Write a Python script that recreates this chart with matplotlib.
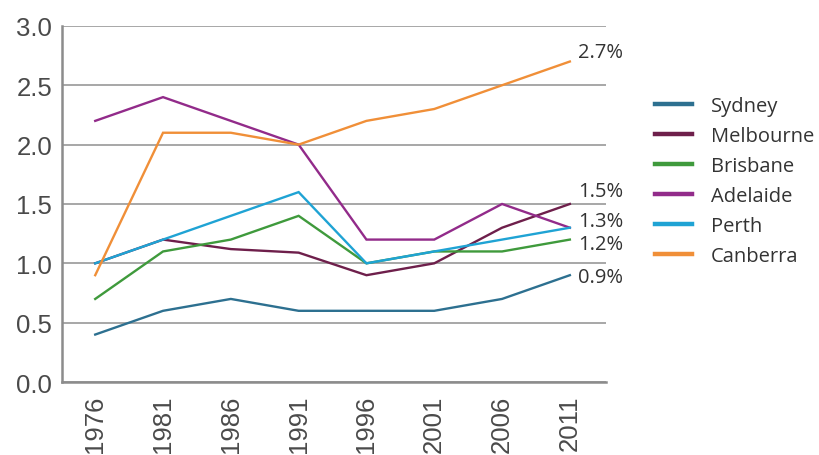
"""Population growth rate by capital city, 1976-2011."""

import matplotlib

matplotlib.use("Agg")
import matplotlib.pyplot as plt

years = ["1976", "1981", "1986", "1991", "1996", "2001", "2006", "2011"]
cities = ["Sydney", "Melbourne", "Brisbane", "Adelaide", "Perth", "Canberra"]

sydney = [0.4, 0.6, 0.7, 0.6, 0.6, 0.6, 0.7, 0.9]
melbourne = [1.0, 1.2, 1.12, 1.09, 0.9, 1.0, 1.3, 1.5]
brisbane = [0.7, 1.1, 1.2, 1.4, 1.0, 1.1, 1.1, 1.2]
adelaide = [2.2, 2.4, 2.2, 2.0, 1.2, 1.2, 1.5, 1.3]
perth = [1.0, 1.2, 1.4, 1.6, 1.0, 1.1, 1.2, 1.3]
canberra = [0.9, 2.1, 2.1, 2.0, 2.2, 2.3, 2.5, 2.7]

end_labels = {"Canberra": "2.7%", "Melbourne": "1.5%", "Perth": "1.3%",
              "Brisbane": "1.2%", "Sydney": "0.9%"}

series = [sydney, melbourne, brisbane, adelaide, perth, canberra]
colors = ["#2d7090", "#6e1f4b", "#3f9a3c", "#922b8a", "#1fa3d4", "#f08f38"]
# vertical nudge (points) so the end labels do not collide
label_offsets = {"Canberra": 7, "Melbourne": 9, "Perth": 5, "Brisbane": -3, "Sydney": -1}

fig = plt.figure(figsize=(8.2, 4.56), dpi=100)
ax = fig.add_axes([0.0756, 0.160, 0.664, 0.781])

x = list(range(len(years)))
for name, values, color in zip(cities, series, colors):
    ax.plot(x, values, color=color, linewidth=1.7, label=name,
            solid_joinstyle="miter")
    if name in end_labels:
        ax.annotate(end_labels[name], xy=(x[-1], values[-1]),
                    xytext=(6, label_offsets[name]), textcoords="offset points",
                    ha="left", va="center", fontsize=14.5, color="#333333",
                    family="Open Sans")

ax.set_xlim(-0.49, 7.54)
ax.set_ylim(0, 3.0)
ax.set_yticks([0.0, 0.5, 1.0, 1.5, 2.0, 2.5, 3.0])
ax.set_yticklabels([f"{v:.1f}" for v in ax.get_yticks()])
ax.set_xticks(x)
ax.set_xticklabels(years, rotation=90)
ax.tick_params(axis="both", length=0, labelsize=18.5, labelcolor="#4a4a4a")
ax.tick_params(axis="y", pad=7)
ax.tick_params(axis="x", pad=9)
for label in ax.get_xticklabels() + ax.get_yticklabels():
    label.set_family("Liberation Sans")

ax.grid(axis="y", color="#a0a0a0", linewidth=1.3)
ax.set_axisbelow(True)
for side in ("top", "right"):
    ax.spines[side].set_visible(False)
for side in ("left", "bottom"):
    ax.spines[side].set_color("#8c8c8c")
    ax.spines[side].set_linewidth(1.8)

legend = ax.legend(loc="upper left", bbox_to_anchor=(1.055, 0.855), frameon=False,
                   handlelength=1.85, handletextpad=0.95, labelspacing=0.5,
                   prop={"family": "Open Sans", "size": 14.5})
for text in legend.get_texts():
    text.set_color("#333333")
for line in legend.get_lines():
    line.set_linewidth(3.2)

fig.savefig("out.png", dpi=100)
